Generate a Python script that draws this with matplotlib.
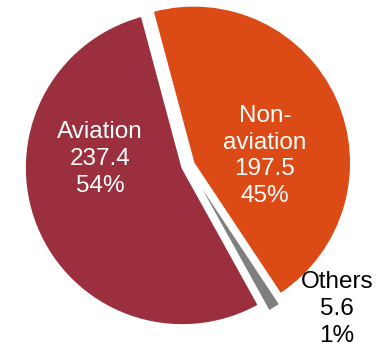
import matplotlib
matplotlib.use("Agg")
import matplotlib.pyplot as plt

categories = ["Non-aviation", "Others", "Aviation"]
values = [197.5, 5.6, 237.4]
percents = ["45%", "1%", "54%"]
value_labels = ["197.5", "5.6", "237.4"]
display_names = ["Non-\naviation", "Others", "Aviation"]

colors = ["#DC4A15", "#7F7F7F", "#9B2F3D"]
text_colors = ["white", "black", "white"]
explode = [0.04, 0.06, 0.04]

W, H = 377, 346
fig = plt.figure(figsize=(W / 100, H / 100), dpi=100)
ax = fig.add_axes([0, 0, 1, 1])

cx, cy, R = 188.0, 165.5, 157.0
ax.pie(values, colors=colors, explode=explode, startangle=105,
       counterclock=False, radius=1.0,
       wedgeprops=dict(edgecolor="white", linewidth=1.0))

ax.set_xlim(-cx / R, (W - cx) / R)
ax.set_ylim(-(H - cy) / R, cy / R)
ax.set_aspect("auto")
ax.axis("off")

# label centres in pixel space (layout only)
label_px = [(265, 156), (337, 309), (100, 159)]
for name, v, p, c, (px, py) in zip(display_names, value_labels, percents, text_colors, label_px):
    ax.text((px - cx) / R, (cy - py) / R, f"{name}\n{v}\n{p}",
            ha="center", va="center", color=c, fontsize=17.5,
            family=["Liberation Sans", "DejaVu Sans"], linespacing=1.27)

fig.savefig("out.png", dpi=100)
